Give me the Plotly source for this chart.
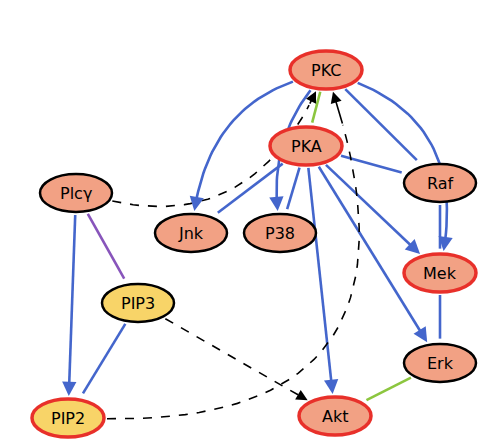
import numpy as np
import plotly.graph_objects as go

# node names, centres (picture px), fill / border
names = ["PKC", "PKA", "Plcγ", "Raf", "Jnk", "P38", "Mek", "PIP3", "Erk", "PIP2", "Akt"]
node_x = [318, 298, 68, 432, 183, 272, 432, 130, 432, 60, 327]
node_y = [62, 138, 185, 175, 225, 225, 265, 295, 355, 410, 408]
fills = ["#f2a184", "#f2a184", "#f2a184", "#f2a184", "#f2a184", "#f2a184",
         "#f2a184", "#f8d468", "#f2a184", "#f8d468", "#f2a184"]
borders = ["red", "red", "black", "black", "black", "black",
           "red", "black", "black", "red", "red"]

# edges: source, target, colour, dashed, bend (0 = straight)
edges = [
    ("PKC", "PKA", "#8cc63f", False, 0),
    ("PKC", "Raf", "blue", False, 0),
    ("PKC", "Mek", "blue", False, 0.4),
    ("PKC", "Jnk", "blue", False, -0.3),
    ("PKC", "P38", "blue", False, -0.2),
    ("PKA", "Jnk", "blue", False, 0),
    ("PKA", "P38", "blue", False, 0),
    ("PKA", "Raf", "blue", False, 0),
    ("PKA", "Mek", "blue", False, 0),
    ("PKA", "Erk", "blue", False, 0),
    ("PKA", "Akt", "blue", False, 0),
    ("Raf", "Mek", "blue", False, 0),
    ("Mek", "Erk", "blue", False, 0),
    ("Erk", "Akt", "#8cc63f", False, 0),
    ("Plcγ", "PIP3", "purple", False, 0),
    ("Plcγ", "PIP2", "blue", False, 0),
    ("PIP3", "PIP2", "blue", False, 0),
    ("PIP3", "Akt", "black", True, 0),
    ("Plcγ", "PKC", "black", True, -0.4),
    ("PIP2", "PKC", "black", True, -0.7),
]

colours = {"blue": "#4466cc", "purple": "#8855bb", "black": "black", "#8cc63f": "#8cc63f"}
RX, RY = 36, 19
pos = {n: np.array([x, y], float) for n, x, y in zip(names, node_x, node_y)}


def on_ellipse(c, d):
    d = d / np.linalg.norm(d)
    t = 1 / np.sqrt((d[0] / (RX + 3)) ** 2 + (d[1] / (RY + 3)) ** 2)
    return c + d * t


fig = go.Figure()
ann = []
ts = np.linspace(0, 1, 40)[:, None]
for s, t, col, dash, bend in edges:
    a, b = pos[s], pos[t]
    colr = colours[col]
    v = b - a
    perp = np.array([v[1], -v[0]])
    ctrl = (a + b) / 2 + bend * perp
    if bend == 0:
        p0 = on_ellipse(a, b - a)
        p1 = on_ellipse(b, a - b)
        ctrl = (p0 + p1) / 2
    else:
        p0 = on_ellipse(a, ctrl - a)
        p1 = on_ellipse(b, ctrl - b)
    pts = (1 - ts) ** 2 * p0 + 2 * (1 - ts) * ts * ctrl + ts ** 2 * p1
    fig.add_trace(go.Scatter(x=pts[:-2, 0], y=pts[:-2, 1], mode="lines",
                             line=dict(color=colr, width=1.6 if dash else 2.6,
                                       dash="dash" if dash else "solid"),
                             hoverinfo="skip", showlegend=False))
    ann.append(dict(x=pts[-1, 0], y=pts[-1, 1], ax=pts[-3, 0], ay=pts[-3, 1],
                    xref="x", yref="y", axref="x", ayref="y", text="",
                    showarrow=True, arrowhead=2, arrowsize=1.1 if not dash else 1.4,
                    arrowwidth=2.6 if not dash else 1.6, arrowcolor=colr))

shapes = []
for n, f, bc in zip(names, fills, borders):
    x, y = pos[n]
    shapes.append(dict(type="circle", xref="x", yref="y", x0=x - RX, x1=x + RX,
                       y0=y - RY, y1=y + RY, fillcolor=f, layer="above",
                       line=dict(color="#e8302a" if bc == "red" else "black",
                                 width=3.5 if bc == "red" else 2.5)))
    ann.append(dict(x=x, y=y, xref="x", yref="y", text=n, showarrow=False,
                    font=dict(family="Comic Sans MS, DejaVu Sans", size=16, color="black")))

fig.update_layout(width=496, height=448, margin=dict(l=0, r=0, t=0, b=0),
                  plot_bgcolor="white", paper_bgcolor="white",
                  shapes=shapes, annotations=ann,
                  xaxis=dict(range=[0, 496], visible=False),
                  yaxis=dict(range=[448, 0], visible=False))
fig.write_html("out.html")
